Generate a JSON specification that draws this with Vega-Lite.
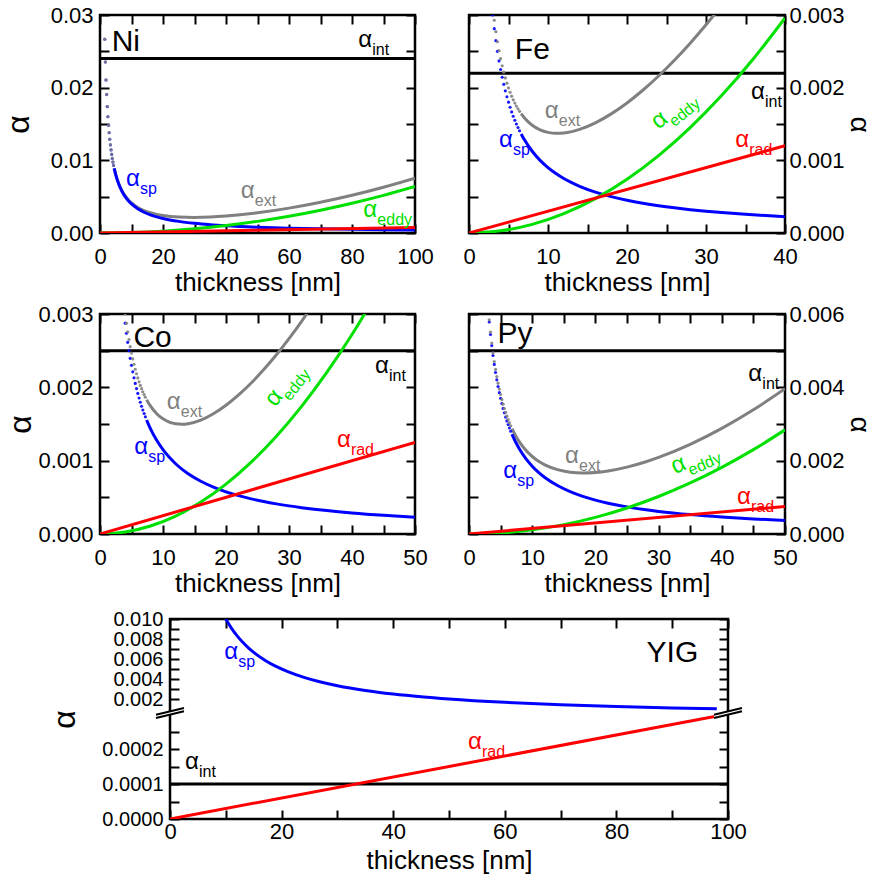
{
  "$schema": "https://vega.github.io/schema/vega-lite/v6.json",
  "background": "white",
  "padding": {"left": 0, "top": 2, "right": 0, "bottom": 0},
  "datasets": {
    "niL": [
      {"s":"int","t":0,"v":0.024},{"s":"int","t":100,"v":0.024},
      {"s":"ext","t":4.5,"v":0.008935},{"s":"ext","t":5,"v":0.008054},{"s":"ext","t":6,"v":0.006735},{"s":"ext","t":7,"v":0.005798},{"s":"ext","t":8,"v":0.005101},{"s":"ext","t":9,"v":0.004564},{"s":"ext","t":10,"v":0.004139},{"s":"ext","t":12,"v":0.003515},{"s":"ext","t":14,"v":0.003088},{"s":"ext","t":16,"v":0.002784},{"s":"ext","t":18,"v":0.002565},{"s":"ext","t":20,"v":0.002406},{"s":"ext","t":25,"v":0.002188},{"s":"ext","t":30,"v":0.002134},{"s":"ext","t":35,"v":0.002189},{"s":"ext","t":40,"v":0.002324},{"s":"ext","t":50,"v":0.002775},{"s":"ext","t":60,"v":0.003421},{"s":"ext","t":70,"v":0.004232},{"s":"ext","t":80,"v":0.005196},{"s":"ext","t":90,"v":0.006303},{"s":"ext","t":100,"v":0.00755},
      {"s":"sp","t":4.5,"v":0.008889},{"s":"sp","t":5,"v":0.008},{"s":"sp","t":6,"v":0.006667},{"s":"sp","t":7,"v":0.005714},{"s":"sp","t":8,"v":0.005},{"s":"sp","t":9,"v":0.004444},{"s":"sp","t":10,"v":0.004},{"s":"sp","t":12,"v":0.003333},{"s":"sp","t":14,"v":0.002857},{"s":"sp","t":16,"v":0.0025},{"s":"sp","t":18,"v":0.002222},{"s":"sp","t":20,"v":0.002},{"s":"sp","t":25,"v":0.0016},{"s":"sp","t":30,"v":0.001333},{"s":"sp","t":35,"v":0.001143},{"s":"sp","t":40,"v":0.001},{"s":"sp","t":50,"v":0.0008},{"s":"sp","t":60,"v":0.000667},{"s":"sp","t":70,"v":0.000571},{"s":"sp","t":80,"v":0.0005},{"s":"sp","t":90,"v":0.000444},{"s":"sp","t":100,"v":0.0004},
      {"s":"eddy","t":0,"v":0},{"s":"eddy","t":10,"v":0.000064},{"s":"eddy","t":20,"v":0.000256},{"s":"eddy","t":30,"v":0.000576},{"s":"eddy","t":40,"v":0.001024},{"s":"eddy","t":50,"v":0.0016},{"s":"eddy","t":60,"v":0.002304},{"s":"eddy","t":70,"v":0.003136},{"s":"eddy","t":80,"v":0.004096},{"s":"eddy","t":90,"v":0.005184},{"s":"eddy","t":100,"v":0.0064},
      {"s":"rad","t":0,"v":0},{"s":"rad","t":100,"v":0.00075}
    ],
    "niP": [
      {"s":"sp","t":1.5,"v":0.026667},{"s":"sp","t":1.7,"v":0.023529},{"s":"sp","t":1.9,"v":0.021053},{"s":"sp","t":2.1,"v":0.019048},{"s":"sp","t":2.3,"v":0.017391},{"s":"sp","t":2.5,"v":0.016},{"s":"sp","t":2.7,"v":0.014815},{"s":"sp","t":2.9,"v":0.013793},{"s":"sp","t":3.1,"v":0.012903},{"s":"sp","t":3.3,"v":0.012121},{"s":"sp","t":3.5,"v":0.011429},{"s":"sp","t":3.7,"v":0.010811},{"s":"sp","t":3.9,"v":0.010256},{"s":"sp","t":4.1,"v":0.009756},{"s":"sp","t":4.3,"v":0.009302},
      {"s":"ext","t":1.5,"v":0.02668},{"s":"ext","t":1.7,"v":0.023544},{"s":"ext","t":1.9,"v":0.02107},{"s":"ext","t":2.1,"v":0.019067},{"s":"ext","t":2.3,"v":0.017412},{"s":"ext","t":2.5,"v":0.016023},{"s":"ext","t":2.7,"v":0.01484},{"s":"ext","t":2.9,"v":0.01382},{"s":"ext","t":3.1,"v":0.012933},{"s":"ext","t":3.3,"v":0.012153},{"s":"ext","t":3.5,"v":0.011463},{"s":"ext","t":3.7,"v":0.010848},{"s":"ext","t":3.9,"v":0.010295},{"s":"ext","t":4.1,"v":0.009798},{"s":"ext","t":4.3,"v":0.009346}
    ],
    "niT": [
      {"a":"α","sub":"sp","s":"sp","t":8.25,"v":0.00647},
      {"a":"α","sub":"ext","s":"ext","t":44.7,"v":0.00486},
      {"a":"α","sub":"eddy","s":"eddy","t":83.6,"v":0.00224},
      {"a":"α","sub":"int","s":"int","t":82.0,"v":0.02564}
    ],
    "feL": [
      {"s":"int","t":0,"v":0.0022},{"s":"int","t":40,"v":0.0022},
      {"s":"ext","t":6.6,"v":0.0016422},{"s":"ext","t":7,"v":0.0015864},{"s":"ext","t":8,"v":0.0014834},{"s":"ext","t":9,"v":0.00141985},{"s":"ext","t":10,"v":0.001385},{"s":"ext","t":11,"v":0.00137203},{"s":"ext","t":12,"v":0.0013764},{"s":"ext","t":13,"v":0.00139496},{"s":"ext","t":14,"v":0.00142546},{"s":"ext","t":16,"v":0.0015161},{"s":"ext","t":18,"v":0.0016394},{"s":"ext","t":20,"v":0.00179},{"s":"ext","t":22,"v":0.00196449},{"s":"ext","t":24,"v":0.0021606},{"s":"ext","t":26,"v":0.00237675},{"s":"ext","t":28,"v":0.00261183},{"s":"ext","t":30,"v":0.002865},{"s":"ext","t":32,"v":0.00313565},
      {"s":"sp","t":6.6,"v":0.0013636},{"s":"sp","t":7,"v":0.0012857},{"s":"sp","t":8,"v":0.001125},{"s":"sp","t":9,"v":0.001},{"s":"sp","t":10,"v":0.0009},{"s":"sp","t":11,"v":0.00081818},{"s":"sp","t":12,"v":0.00075},{"s":"sp","t":13,"v":0.00069231},{"s":"sp","t":14,"v":0.00064286},{"s":"sp","t":16,"v":0.0005625},{"s":"sp","t":18,"v":0.0005},{"s":"sp","t":20,"v":0.00045},{"s":"sp","t":22,"v":0.00040909},{"s":"sp","t":24,"v":0.000375},{"s":"sp","t":26,"v":0.00034615},{"s":"sp","t":28,"v":0.00032143},{"s":"sp","t":30,"v":0.0003},{"s":"sp","t":32,"v":0.00028125},{"s":"sp","t":35,"v":0.00025714},{"s":"sp","t":40,"v":0.000225},
      {"s":"eddy","t":0,"v":0},{"s":"eddy","t":4,"v":0.0000296},{"s":"eddy","t":8,"v":0.0001184},{"s":"eddy","t":12,"v":0.0002664},{"s":"eddy","t":16,"v":0.0004736},{"s":"eddy","t":20,"v":0.00074},{"s":"eddy","t":24,"v":0.0010656},{"s":"eddy","t":28,"v":0.0014504},{"s":"eddy","t":32,"v":0.0018944},{"s":"eddy","t":36,"v":0.0023976},{"s":"eddy","t":40,"v":0.00296},
      {"s":"rad","t":0,"v":0},{"s":"rad","t":40,"v":0.0012}
    ],
    "feP": [
      {"s":"sp","t":3.0,"v":0.003},{"s":"sp","t":3.2,"v":0.0028125},{"s":"sp","t":3.4,"v":0.0026471},{"s":"sp","t":3.6,"v":0.0025},{"s":"sp","t":3.8,"v":0.0023684},{"s":"sp","t":4.0,"v":0.00225},{"s":"sp","t":4.2,"v":0.0021429},{"s":"sp","t":4.4,"v":0.0020455},{"s":"sp","t":4.6,"v":0.0019565},{"s":"sp","t":4.8,"v":0.001875},{"s":"sp","t":5.0,"v":0.0018},{"s":"sp","t":5.2,"v":0.0017308},{"s":"sp","t":5.4,"v":0.0016667},{"s":"sp","t":5.6,"v":0.0016071},{"s":"sp","t":5.8,"v":0.0015517},{"s":"sp","t":6.0,"v":0.0015},{"s":"sp","t":6.2,"v":0.0014516},{"s":"sp","t":6.4,"v":0.0014063},
      {"s":"ext","t":3.0,"v":0.0031067},{"s":"ext","t":3.2,"v":0.0029274},{"s":"ext","t":3.4,"v":0.0027705},{"s":"ext","t":3.6,"v":0.002632},{"s":"ext","t":3.8,"v":0.0025091},{"s":"ext","t":4.0,"v":0.0023996},{"s":"ext","t":4.2,"v":0.0023015},{"s":"ext","t":4.4,"v":0.0022133},{"s":"ext","t":4.6,"v":0.0021337},{"s":"ext","t":4.8,"v":0.0020616},{"s":"ext","t":5.0,"v":0.0019963},{"s":"ext","t":5.2,"v":0.0019368},{"s":"ext","t":5.4,"v":0.0018826},{"s":"ext","t":5.6,"v":0.0018331},{"s":"ext","t":5.8,"v":0.0017879},{"s":"ext","t":6.0,"v":0.0017466},{"s":"ext","t":6.2,"v":0.0017087},{"s":"ext","t":6.4,"v":0.0016741}
    ],
    "feT": [
      {"a":"α","sub":"int","s":"int","t":35.7,"v":0.00184},
      {"a":"α","sub":"ext","s":"ext","t":9.6,"v":0.00158},
      {"a":"α","sub":"sp","s":"sp","t":3.8,"v":0.00119},
      {"a":"α","sub":"rad","s":"rad","t":33.7,"v":0.00119}
    ],
    "coL": [
      {"s":"int","t":0,"v":0.0025},{"s":"int","t":50,"v":0.0025},
      {"s":"ext","t":7.4,"v":0.00183219},{"s":"ext","t":8,"v":0.0017463},{"s":"ext","t":9,"v":0.0016405},{"s":"ext","t":10,"v":0.00157},{"s":"ext","t":11,"v":0.0015262},{"s":"ext","t":12,"v":0.00150313},{"s":"ext","t":13,"v":0.00149692},{"s":"ext","t":14,"v":0.00150463},{"s":"ext","t":16,"v":0.00155395},{"s":"ext","t":18,"v":0.00163969},{"s":"ext","t":20,"v":0.001755},{"s":"ext","t":22,"v":0.00189553},{"s":"ext","t":24,"v":0.00205837},{"s":"ext","t":26,"v":0.00224151},{"s":"ext","t":28,"v":0.00244351},{"s":"ext","t":30,"v":0.00266333},{"s":"ext","t":32,"v":0.00290018},{"s":"ext","t":34,"v":0.00315344},
      {"s":"sp","t":7.4,"v":0.0015541},{"s":"sp","t":8,"v":0.0014375},{"s":"sp","t":9,"v":0.0012778},{"s":"sp","t":10,"v":0.00115},{"s":"sp","t":11,"v":0.0010455},{"s":"sp","t":12,"v":0.00095833},{"s":"sp","t":13,"v":0.00088462},{"s":"sp","t":14,"v":0.00082143},{"s":"sp","t":16,"v":0.00071875},{"s":"sp","t":18,"v":0.00063889},{"s":"sp","t":20,"v":0.000575},{"s":"sp","t":22,"v":0.00052273},{"s":"sp","t":24,"v":0.00047917},{"s":"sp","t":26,"v":0.00044231},{"s":"sp","t":28,"v":0.00041071},{"s":"sp","t":30,"v":0.00038333},{"s":"sp","t":32,"v":0.00035938},{"s":"sp","t":34,"v":0.00033824},{"s":"sp","t":36,"v":0.00031944},{"s":"sp","t":40,"v":0.0002875},{"s":"sp","t":45,"v":0.00025556},{"s":"sp","t":50,"v":0.00023},
      {"s":"eddy","t":0,"v":0},{"s":"eddy","t":4,"v":0.0000272},{"s":"eddy","t":8,"v":0.0001088},{"s":"eddy","t":12,"v":0.0002448},{"s":"eddy","t":16,"v":0.0004352},{"s":"eddy","t":20,"v":0.00068},{"s":"eddy","t":24,"v":0.0009792},{"s":"eddy","t":28,"v":0.0013328},{"s":"eddy","t":32,"v":0.0017408},{"s":"eddy","t":36,"v":0.0022032},{"s":"eddy","t":40,"v":0.00272},{"s":"eddy","t":44,"v":0.0032912},
      {"s":"rad","t":0,"v":0},{"s":"rad","t":50,"v":0.00125}
    ],
    "coP": [
      {"s":"sp","t":3.8,"v":0.0030263},{"s":"sp","t":4.0,"v":0.002875},{"s":"sp","t":4.2,"v":0.0027381},{"s":"sp","t":4.4,"v":0.0026136},{"s":"sp","t":4.6,"v":0.0025},{"s":"sp","t":4.8,"v":0.0023958},{"s":"sp","t":5.0,"v":0.0023},{"s":"sp","t":5.2,"v":0.0022115},{"s":"sp","t":5.4,"v":0.0021296},{"s":"sp","t":5.6,"v":0.0020536},{"s":"sp","t":5.8,"v":0.0019828},{"s":"sp","t":6.0,"v":0.0019167},{"s":"sp","t":6.2,"v":0.0018548},{"s":"sp","t":6.4,"v":0.0017969},{"s":"sp","t":6.6,"v":0.0017424},{"s":"sp","t":6.8,"v":0.0016912},{"s":"sp","t":7.0,"v":0.0016429},{"s":"sp","t":7.2,"v":0.0015972},
      {"s":"ext","t":3.8,"v":0.0031459},{"s":"ext","t":4.0,"v":0.0030022},{"s":"ext","t":4.2,"v":0.0028731},{"s":"ext","t":4.4,"v":0.0027565},{"s":"ext","t":4.6,"v":0.002651},{"s":"ext","t":4.8,"v":0.002555},{"s":"ext","t":5.0,"v":0.0024675},{"s":"ext","t":5.2,"v":0.0023875},{"s":"ext","t":5.4,"v":0.0023142},{"s":"ext","t":5.6,"v":0.0022469},{"s":"ext","t":5.8,"v":0.002185},{"s":"ext","t":6.0,"v":0.0021279},{"s":"ext","t":6.2,"v":0.0020752},{"s":"ext","t":6.4,"v":0.0020265},{"s":"ext","t":6.6,"v":0.0019815},{"s":"ext","t":6.8,"v":0.0019398},{"s":"ext","t":7.0,"v":0.0019012},{"s":"ext","t":7.2,"v":0.0018653}
    ],
    "coT": [
      {"a":"α","sub":"int","s":"int","t":43.65,"v":0.0022},
      {"a":"α","sub":"ext","s":"ext","t":10.6,"v":0.0017},
      {"a":"α","sub":"sp","s":"sp","t":5.45,"v":0.00109},
      {"a":"α","sub":"rad","s":"rad","t":37.6,"v":0.00118}
    ],
    "pyL": [
      {"s":"int","t":0,"v":0.005},{"s":"int","t":50,"v":0.005},
      {"s":"ext","t":6.8,"v":0.0028751},{"s":"ext","t":7.5,"v":0.0026431},{"s":"ext","t":8,"v":0.0025052},{"s":"ext","t":9,"v":0.0022826},{"s":"ext","t":10,"v":0.0021136},{"s":"ext","t":11,"v":0.0019843},{"s":"ext","t":12,"v":0.0018853},{"s":"ext","t":14,"v":0.0017541},{"s":"ext","t":16,"v":0.0016871},{"s":"ext","t":18,"v":0.0016659},{"s":"ext","t":20,"v":0.0016794},{"s":"ext","t":22,"v":0.0017207},{"s":"ext","t":25,"v":0.001825},{"s":"ext","t":28,"v":0.0019713},{"s":"ext","t":30,"v":0.0020891},{"s":"ext","t":35,"v":0.0024452},{"s":"ext","t":40,"v":0.0028801},{"s":"ext","t":45,"v":0.0033865},{"s":"ext","t":50,"v":0.00396},
      {"s":"sp","t":6.8,"v":0.0027206},{"s":"sp","t":7.5,"v":0.0024667},{"s":"sp","t":8,"v":0.0023125},{"s":"sp","t":9,"v":0.0020556},{"s":"sp","t":10,"v":0.00185},{"s":"sp","t":11,"v":0.0016818},{"s":"sp","t":12,"v":0.0015417},{"s":"sp","t":14,"v":0.0013214},{"s":"sp","t":16,"v":0.0011563},{"s":"sp","t":18,"v":0.0010278},{"s":"sp","t":20,"v":0.000925},{"s":"sp","t":22,"v":0.00084091},{"s":"sp","t":25,"v":0.00074},{"s":"sp","t":28,"v":0.00066071},{"s":"sp","t":30,"v":0.00061667},{"s":"sp","t":35,"v":0.00052857},{"s":"sp","t":40,"v":0.0004625},{"s":"sp","t":45,"v":0.00041111},{"s":"sp","t":50,"v":0.00037},
      {"s":"eddy","t":0,"v":0},{"s":"eddy","t":5,"v":0.0000284},{"s":"eddy","t":10,"v":0.0001136},{"s":"eddy","t":15,"v":0.0002556},{"s":"eddy","t":20,"v":0.0004544},{"s":"eddy","t":25,"v":0.00071},{"s":"eddy","t":30,"v":0.0010224},{"s":"eddy","t":35,"v":0.0013916},{"s":"eddy","t":40,"v":0.0018176},{"s":"eddy","t":45,"v":0.0023004},{"s":"eddy","t":50,"v":0.00284},
      {"s":"rad","t":0,"v":0},{"s":"rad","t":50,"v":0.00075}
    ],
    "pyP": [
      {"s":"sp","t":3.2,"v":0.0057813},{"s":"sp","t":3.4,"v":0.0054412},{"s":"sp","t":3.6,"v":0.0051389},{"s":"sp","t":3.8,"v":0.0048684},{"s":"sp","t":4.0,"v":0.004625},{"s":"sp","t":4.2,"v":0.0044048},{"s":"sp","t":4.4,"v":0.0042045},{"s":"sp","t":4.6,"v":0.0040217},{"s":"sp","t":4.8,"v":0.0038542},{"s":"sp","t":5.0,"v":0.0037},{"s":"sp","t":5.2,"v":0.0035577},{"s":"sp","t":5.4,"v":0.0034259},{"s":"sp","t":5.6,"v":0.0033036},{"s":"sp","t":5.8,"v":0.0031897},{"s":"sp","t":6.0,"v":0.0030833},{"s":"sp","t":6.2,"v":0.0029839},{"s":"sp","t":6.4,"v":0.0028906},{"s":"sp","t":6.6,"v":0.002803},
      {"s":"ext","t":3.2,"v":0.0058409},{"s":"ext","t":3.4,"v":0.0055053},{"s":"ext","t":3.6,"v":0.0052076},{"s":"ext","t":3.8,"v":0.0049418},{"s":"ext","t":4.0,"v":0.0047032},{"s":"ext","t":4.2,"v":0.0044878},{"s":"ext","t":4.4,"v":0.0042925},{"s":"ext","t":4.6,"v":0.0041147},{"s":"ext","t":4.8,"v":0.0039524},{"s":"ext","t":5.0,"v":0.0038034},{"s":"ext","t":5.2,"v":0.0036664},{"s":"ext","t":5.4,"v":0.00354},{"s":"ext","t":5.6,"v":0.0034232},{"s":"ext","t":5.8,"v":0.0033149},{"s":"ext","t":6.0,"v":0.0032142},{"s":"ext","t":6.2,"v":0.0031206},{"s":"ext","t":6.4,"v":0.0030331},{"s":"ext","t":6.6,"v":0.0029515}
    ],
    "pyT": [
      {"a":"α","sub":"int","s":"int","t":44.2,"v":0.00417},
      {"a":"α","sub":"ext","s":"ext","t":15.2,"v":0.00194},
      {"a":"α","sub":"sp","s":"sp","t":5.4,"v":0.00154},
      {"a":"α","sub":"rad","s":"rad","t":42.4,"v":0.00081}
    ],
    "yiL": [
      {"s":"int","t":0,"v":0.0001},{"s":"int","t":100,"v":0.0001},
      {"s":"sp","t":10,"v":0.01},{"s":"sp","t":11,"v":0.0090909},{"s":"sp","t":12,"v":0.0083333},{"s":"sp","t":13,"v":0.0076923},{"s":"sp","t":14,"v":0.0071429},{"s":"sp","t":15,"v":0.0066667},{"s":"sp","t":17,"v":0.0058824},{"s":"sp","t":19,"v":0.0052632},{"s":"sp","t":21,"v":0.0047619},{"s":"sp","t":24,"v":0.0041667},{"s":"sp","t":27,"v":0.0037037},{"s":"sp","t":30,"v":0.0033333},{"s":"sp","t":35,"v":0.0028571},{"s":"sp","t":40,"v":0.0025},{"s":"sp","t":45,"v":0.0022222},{"s":"sp","t":50,"v":0.002},{"s":"sp","t":60,"v":0.0016667},{"s":"sp","t":70,"v":0.0014286},{"s":"sp","t":80,"v":0.00125},{"s":"sp","t":90,"v":0.0011111},{"s":"sp","t":98,"v":0.0010204},
      {"s":"rad","t":0,"v":0},{"s":"rad","t":100,"v":0.0003}
    ],
    "yiT": [
      {"a":"α","sub":"sp","s":"sp","t":9.7,"v":0.00597},
      {"a":"α","sub":"int","s":"int","t":2.7,"v":0.000142},
      {"a":"α","sub":"rad","s":"rad","t":53.4,"v":0.000199}
    ]
  },
  "vconcat": [
    {
      "vconcat": [
        {
          "hconcat": [
            {
              "width": 315, "height": 218,
              "layer": [
                {"data": {"name": "niL"}, "mark": {"type": "line", "strokeWidth": 3, "clip": true, "interpolate": "monotone"},
                 "encoding": {
                   "x": {"field": "t", "type": "quantitative", "scale": {"domain": [0, 100], "nice": false, "zero": false},
                         "axis": {"orient": "bottom", "values": [0,10,20,30,40,50,60,70,80,90,100], "labelExpr": "datum.value % 20 == 0 ? datum.label : ''", "title": "thickness [nm]"}},
                   "y": {"field": "v", "type": "quantitative", "scale": {"domain": [0, 0.03], "nice": false, "zero": false},
                         "axis": {"orient": "left", "values": [0,0.005,0.01,0.015,0.02,0.025,0.03], "labelExpr": "abs(datum.value*100 - round(datum.value*100)) < 1e-6 ? format(datum.value, '.2f') : ''", "title": "α", "titlePadding": 15}},
                   "color": {"field": "s", "type": "nominal", "scale": {"domain": ["int","ext","sp","eddy","rad"], "range": ["#000000","#808080","#0000ff","#00e000","#ff0000"]}, "legend": null}
                 }},
                {"data": {"name": "niP"}, "mark": {"type": "point", "filled": true, "size": 10, "opacity": 0.85, "clip": true},
                 "encoding": {
                   "x": {"field": "t", "type": "quantitative", "scale": {"domain": [0, 100], "nice": false, "zero": false},
                         "axis": {"orient": "top", "values": [0,10,20,30,40,50,60,70,80,90,100], "labels": false, "title": null}},
                   "y": {"field": "v", "type": "quantitative", "scale": {"domain": [0, 0.03], "nice": false, "zero": false},
                         "axis": {"orient": "right", "values": [0,0.005,0.01,0.015,0.02,0.025,0.03], "labels": false, "title": null}},
                   "color": {"field": "s", "type": "nominal", "scale": {"domain": ["int","ext","sp","eddy","rad"], "range": ["#000000","#808080","#0000ff","#00e000","#ff0000"]}, "legend": null}
                 }},
                {"data": {"name": "niT"}, "mark": {"type": "text", "align": "left", "baseline": "alphabetic", "fontSize": 24},
                 "encoding": {"x": {"field": "t", "type": "quantitative", "axis": null}, "y": {"field": "v", "type": "quantitative", "axis": null}, "text": {"field": "a"},
                   "color": {"field": "s", "type": "nominal", "scale": {"domain": ["int","ext","sp","eddy","rad"], "range": ["#000000","#808080","#0000ff","#00e000","#ff0000"]}, "legend": null}}},
                {"data": {"name": "niT"}, "mark": {"type": "text", "align": "left", "baseline": "alphabetic", "fontSize": 16, "dx": 14, "dy": 8},
                 "encoding": {"x": {"field": "t", "type": "quantitative", "axis": null}, "y": {"field": "v", "type": "quantitative", "axis": null}, "text": {"field": "sub"},
                   "color": {"field": "s", "type": "nominal", "scale": {"domain": ["int","ext","sp","eddy","rad"], "range": ["#000000","#808080","#0000ff","#00e000","#ff0000"]}, "legend": null}}},
                {"data": {"values": [{"n": "Ni", "t": 3.7, "v": 0.02505}]}, "mark": {"type": "text", "align": "left", "baseline": "alphabetic", "fontSize": 30, "color": "black"},
                 "encoding": {"x": {"field": "t", "type": "quantitative", "axis": null}, "y": {"field": "v", "type": "quantitative", "axis": null}, "text": {"field": "n"}}}
              ],
              "resolve": {"axis": {"x": "independent", "y": "independent"}}
            },
            {
              "width": 316, "height": 218,
              "layer": [
                {"data": {"name": "feL"}, "mark": {"type": "line", "strokeWidth": 3, "clip": true, "interpolate": "monotone"},
                 "encoding": {
                   "x": {"field": "t", "type": "quantitative", "scale": {"domain": [0, 40], "nice": false, "zero": false},
                         "axis": {"orient": "bottom", "values": [0,5,10,15,20,25,30,35,40], "labelExpr": "datum.value % 10 == 0 ? datum.label : ''", "title": "thickness [nm]"}},
                   "y": {"field": "v", "type": "quantitative", "scale": {"domain": [0, 0.003], "nice": false, "zero": false},
                         "axis": {"orient": "right", "values": [0,0.0005,0.001,0.0015,0.002,0.0025,0.003], "labelExpr": "abs(datum.value*1000 - round(datum.value*1000)) < 1e-6 ? format(datum.value, '.3f') : ''", "title": "α"}},
                   "color": {"field": "s", "type": "nominal", "scale": {"domain": ["int","ext","sp","eddy","rad"], "range": ["#000000","#808080","#0000ff","#00e000","#ff0000"]}, "legend": null}
                 }},
                {"data": {"name": "feP"}, "mark": {"type": "point", "filled": true, "size": 10, "opacity": 0.9, "clip": true},
                 "encoding": {
                   "x": {"field": "t", "type": "quantitative", "scale": {"domain": [0, 40], "nice": false, "zero": false},
                         "axis": {"orient": "top", "values": [0,5,10,15,20,25,30,35,40], "labels": false, "title": null}},
                   "y": {"field": "v", "type": "quantitative", "scale": {"domain": [0, 0.003], "nice": false, "zero": false},
                         "axis": {"orient": "left", "values": [0,0.0005,0.001,0.0015,0.002,0.0025,0.003], "labels": false, "title": null}},
                   "color": {"field": "s", "type": "nominal", "scale": {"domain": ["int","ext","sp","eddy","rad"], "range": ["#000000","#808080","#0000ff","#00e000","#ff0000"]}, "legend": null}
                 }},
                {"data": {"name": "feT"}, "mark": {"type": "text", "align": "left", "baseline": "alphabetic", "fontSize": 24},
                 "encoding": {"x": {"field": "t", "type": "quantitative", "axis": null}, "y": {"field": "v", "type": "quantitative", "axis": null}, "text": {"field": "a"},
                   "color": {"field": "s", "type": "nominal", "scale": {"domain": ["int","ext","sp","eddy","rad"], "range": ["#000000","#808080","#0000ff","#00e000","#ff0000"]}, "legend": null}}},
                {"data": {"name": "feT"}, "mark": {"type": "text", "align": "left", "baseline": "alphabetic", "fontSize": 16, "dx": 14, "dy": 8},
                 "encoding": {"x": {"field": "t", "type": "quantitative", "axis": null}, "y": {"field": "v", "type": "quantitative", "axis": null}, "text": {"field": "sub"},
                   "color": {"field": "s", "type": "nominal", "scale": {"domain": ["int","ext","sp","eddy","rad"], "range": ["#000000","#808080","#0000ff","#00e000","#ff0000"]}, "legend": null}}},
                {"data": {"values": [{"a": "α", "t": 24.0, "v": 0.001418}]}, "mark": {"type": "text", "align": "left", "baseline": "alphabetic", "fontSize": 24, "angle": -39, "color": "#00e000"},
                 "encoding": {"x": {"field": "t", "type": "quantitative", "axis": null}, "y": {"field": "v", "type": "quantitative", "axis": null}, "text": {"field": "a"}}},
                {"data": {"values": [{"a": "eddy", "t": 24.0, "v": 0.001418}]}, "mark": {"type": "text", "align": "left", "baseline": "alphabetic", "fontSize": 16, "angle": -39, "dx": 14, "dy": 8, "color": "#00e000"},
                 "encoding": {"x": {"field": "t", "type": "quantitative", "axis": null}, "y": {"field": "v", "type": "quantitative", "axis": null}, "text": {"field": "a"}}},
                {"data": {"values": [{"n": "Fe", "t": 5.8, "v": 0.0024}]}, "mark": {"type": "text", "align": "left", "baseline": "alphabetic", "fontSize": 30, "color": "black"},
                 "encoding": {"x": {"field": "t", "type": "quantitative", "axis": null}, "y": {"field": "v", "type": "quantitative", "axis": null}, "text": {"field": "n"}}}
              ],
              "resolve": {"axis": {"x": "independent", "y": "independent"}}
            }
          ],
          "spacing": 54, "bounds": "flush"
        },
        {
          "hconcat": [
            {
              "width": 315, "height": 220,
              "layer": [
                {"data": {"name": "coL"}, "mark": {"type": "line", "strokeWidth": 3, "clip": true, "interpolate": "monotone"},
                 "encoding": {
                   "x": {"field": "t", "type": "quantitative", "scale": {"domain": [0, 50], "nice": false, "zero": false},
                         "axis": {"orient": "bottom", "values": [0,5,10,15,20,25,30,35,40,45,50], "labelExpr": "datum.value % 10 == 0 ? datum.label : ''", "title": "thickness [nm]"}},
                   "y": {"field": "v", "type": "quantitative", "scale": {"domain": [0, 0.003], "nice": false, "zero": false},
                         "axis": {"orient": "left", "values": [0,0.0005,0.001,0.0015,0.002,0.0025,0.003], "labelExpr": "abs(datum.value*1000 - round(datum.value*1000)) < 1e-6 ? format(datum.value, '.3f') : ''", "title": "α", "titlePadding": 0}},
                   "color": {"field": "s", "type": "nominal", "scale": {"domain": ["int","ext","sp","eddy","rad"], "range": ["#000000","#808080","#0000ff","#00e000","#ff0000"]}, "legend": null}
                 }},
                {"data": {"name": "coP"}, "mark": {"type": "point", "filled": true, "size": 10, "opacity": 0.9, "clip": true},
                 "encoding": {
                   "x": {"field": "t", "type": "quantitative", "scale": {"domain": [0, 50], "nice": false, "zero": false},
                         "axis": {"orient": "top", "values": [0,5,10,15,20,25,30,35,40,45,50], "labels": false, "title": null}},
                   "y": {"field": "v", "type": "quantitative", "scale": {"domain": [0, 0.003], "nice": false, "zero": false},
                         "axis": {"orient": "right", "values": [0,0.0005,0.001,0.0015,0.002,0.0025,0.003], "labels": false, "title": null}},
                   "color": {"field": "s", "type": "nominal", "scale": {"domain": ["int","ext","sp","eddy","rad"], "range": ["#000000","#808080","#0000ff","#00e000","#ff0000"]}, "legend": null}
                 }},
                {"data": {"name": "coT"}, "mark": {"type": "text", "align": "left", "baseline": "alphabetic", "fontSize": 24},
                 "encoding": {"x": {"field": "t", "type": "quantitative", "axis": null}, "y": {"field": "v", "type": "quantitative", "axis": null}, "text": {"field": "a"},
                   "color": {"field": "s", "type": "nominal", "scale": {"domain": ["int","ext","sp","eddy","rad"], "range": ["#000000","#808080","#0000ff","#00e000","#ff0000"]}, "legend": null}}},
                {"data": {"name": "coT"}, "mark": {"type": "text", "align": "left", "baseline": "alphabetic", "fontSize": 16, "dx": 14, "dy": 8},
                 "encoding": {"x": {"field": "t", "type": "quantitative", "axis": null}, "y": {"field": "v", "type": "quantitative", "axis": null}, "text": {"field": "sub"},
                   "color": {"field": "s", "type": "nominal", "scale": {"domain": ["int","ext","sp","eddy","rad"], "range": ["#000000","#808080","#0000ff","#00e000","#ff0000"]}, "legend": null}}},
                {"data": {"values": [{"a": "α", "t": 27.8, "v": 0.00172}]}, "mark": {"type": "text", "align": "left", "baseline": "alphabetic", "fontSize": 24, "angle": -52, "color": "#00e000"},
                 "encoding": {"x": {"field": "t", "type": "quantitative", "axis": null}, "y": {"field": "v", "type": "quantitative", "axis": null}, "text": {"field": "a"}}},
                {"data": {"values": [{"a": "eddy", "t": 27.8, "v": 0.00172}]}, "mark": {"type": "text", "align": "left", "baseline": "alphabetic", "fontSize": 16, "angle": -52, "dx": 14, "dy": 8, "color": "#00e000"},
                 "encoding": {"x": {"field": "t", "type": "quantitative", "axis": null}, "y": {"field": "v", "type": "quantitative", "axis": null}, "text": {"field": "a"}}},
                {"data": {"values": [{"n": "Co", "t": 5.3, "v": 0.00255}]}, "mark": {"type": "text", "align": "left", "baseline": "alphabetic", "fontSize": 30, "color": "black"},
                 "encoding": {"x": {"field": "t", "type": "quantitative", "axis": null}, "y": {"field": "v", "type": "quantitative", "axis": null}, "text": {"field": "n"}}}
              ],
              "resolve": {"axis": {"x": "independent", "y": "independent"}}
            },
            {
              "width": 316, "height": 220,
              "layer": [
                {"data": {"name": "pyL"}, "mark": {"type": "line", "strokeWidth": 3, "clip": true, "interpolate": "monotone"},
                 "encoding": {
                   "x": {"field": "t", "type": "quantitative", "scale": {"domain": [0, 50], "nice": false, "zero": false},
                         "axis": {"orient": "bottom", "values": [0,5,10,15,20,25,30,35,40,45,50], "labelExpr": "datum.value % 10 == 0 ? datum.label : ''", "title": "thickness [nm]"}},
                   "y": {"field": "v", "type": "quantitative", "scale": {"domain": [0, 0.006], "nice": false, "zero": false},
                         "axis": {"orient": "right", "values": [0,0.001,0.002,0.003,0.004,0.005,0.006], "labelExpr": "abs(datum.value*500 - round(datum.value*500)) < 1e-6 ? format(datum.value, '.3f') : ''", "title": "α"}},
                   "color": {"field": "s", "type": "nominal", "scale": {"domain": ["int","ext","sp","eddy","rad"], "range": ["#000000","#808080","#0000ff","#00e000","#ff0000"]}, "legend": null}
                 }},
                {"data": {"name": "pyP"}, "mark": {"type": "point", "filled": true, "size": 10, "opacity": 0.9, "clip": true},
                 "encoding": {
                   "x": {"field": "t", "type": "quantitative", "scale": {"domain": [0, 50], "nice": false, "zero": false},
                         "axis": {"orient": "top", "values": [0,5,10,15,20,25,30,35,40,45,50], "labels": false, "title": null}},
                   "y": {"field": "v", "type": "quantitative", "scale": {"domain": [0, 0.006], "nice": false, "zero": false},
                         "axis": {"orient": "left", "values": [0,0.001,0.002,0.003,0.004,0.005,0.006], "labels": false, "title": null}},
                   "color": {"field": "s", "type": "nominal", "scale": {"domain": ["int","ext","sp","eddy","rad"], "range": ["#000000","#808080","#0000ff","#00e000","#ff0000"]}, "legend": null}
                 }},
                {"data": {"name": "pyT"}, "mark": {"type": "text", "align": "left", "baseline": "alphabetic", "fontSize": 24},
                 "encoding": {"x": {"field": "t", "type": "quantitative", "axis": null}, "y": {"field": "v", "type": "quantitative", "axis": null}, "text": {"field": "a"},
                   "color": {"field": "s", "type": "nominal", "scale": {"domain": ["int","ext","sp","eddy","rad"], "range": ["#000000","#808080","#0000ff","#00e000","#ff0000"]}, "legend": null}}},
                {"data": {"name": "pyT"}, "mark": {"type": "text", "align": "left", "baseline": "alphabetic", "fontSize": 16, "dx": 14, "dy": 8},
                 "encoding": {"x": {"field": "t", "type": "quantitative", "axis": null}, "y": {"field": "v", "type": "quantitative", "axis": null}, "text": {"field": "sub"},
                   "color": {"field": "s", "type": "nominal", "scale": {"domain": ["int","ext","sp","eddy","rad"], "range": ["#000000","#808080","#0000ff","#00e000","#ff0000"]}, "legend": null}}},
                {"data": {"values": [{"a": "α", "t": 32.6, "v": 0.00163}]}, "mark": {"type": "text", "align": "left", "baseline": "alphabetic", "fontSize": 24, "angle": -24, "color": "#00e000"},
                 "encoding": {"x": {"field": "t", "type": "quantitative", "axis": null}, "y": {"field": "v", "type": "quantitative", "axis": null}, "text": {"field": "a"}}},
                {"data": {"values": [{"a": "eddy", "t": 32.6, "v": 0.00163}]}, "mark": {"type": "text", "align": "left", "baseline": "alphabetic", "fontSize": 16, "angle": -24, "dx": 14, "dy": 8, "color": "#00e000"},
                 "encoding": {"x": {"field": "t", "type": "quantitative", "axis": null}, "y": {"field": "v", "type": "quantitative", "axis": null}, "text": {"field": "a"}}},
                {"data": {"values": [{"n": "Py", "t": 4.5, "v": 0.0052}]}, "mark": {"type": "text", "align": "left", "baseline": "alphabetic", "fontSize": 30, "color": "black"},
                 "encoding": {"x": {"field": "t", "type": "quantitative", "axis": null}, "y": {"field": "v", "type": "quantitative", "axis": null}, "text": {"field": "n"}}}
              ],
              "resolve": {"axis": {"x": "independent", "y": "independent"}}
            }
          ],
          "spacing": 54, "bounds": "flush"
        }
      ],
      "spacing": 4
    },
    {
      "hconcat": [
        {"width": 63, "height": 200, "data": {"values": []}, "mark": "point", "view": {"stroke": null}},
        {
          "width": 558, "height": 200,
          "layer": [
            {"data": {"name": "yiL"}, "mark": {"type": "line", "strokeWidth": 3, "clip": true, "interpolate": "monotone"},
             "encoding": {
               "x": {"field": "t", "type": "quantitative", "scale": {"domain": [0, 100], "nice": false, "zero": false},
                     "axis": {"orient": "bottom", "values": [0,10,20,30,40,50,60,70,80,90,100], "labelExpr": "datum.value % 20 == 0 ? datum.label : ''", "title": "thickness [nm]", "labelPadding": 11, "titlePadding": 5}},
               "y": {"field": "v", "type": "quantitative", "scale": {"domain": [0, 0.0003, 0.0007, 0.01], "range": [200, 95, 93, 0], "nice": false, "zero": false},
                     "axis": {"orient": "left", "values": [0,0.00005,0.0001,0.00015,0.0002,0.00025,0.002,0.003,0.004,0.005,0.006,0.007,0.008,0.009,0.01], "labelExpr": "indexof([0, 0.0001, 0.0002], datum.value) >= 0 ? format(datum.value, '.4f') : (indexof([0.002, 0.004, 0.006, 0.008, 0.01], datum.value) >= 0 ? format(datum.value, '.3f') : '')", "labelFontSize": 20, "title": "α", "titlePadding": 20}},
               "color": {"field": "s", "type": "nominal", "scale": {"domain": ["int","ext","sp","eddy","rad"], "range": ["#000000","#808080","#0000ff","#00e000","#ff0000"]}, "legend": null}
             }},
            {"data": {"values": [{"t": 0, "v": 0.0005}, {"t": 100, "v": 0.0005}]}, "mark": {"type": "point", "shape": "M-1,0.12L1,-0.36L1,-0.12L-1,0.36Z", "filled": true, "color": "white", "opacity": 1, "size": 784, "clip": false},
             "encoding": {
               "x": {"field": "t", "type": "quantitative", "axis": {"orient": "top", "values": [0,10,20,30,40,50,60,70,80,90,100], "labels": false, "title": null}},
               "y": {"field": "v", "type": "quantitative", "axis": {"orient": "right", "values": [0,0.00005,0.0001,0.00015,0.0002,0.00025,0.002,0.003,0.004,0.005,0.006,0.007,0.008,0.009,0.01], "labels": false, "title": null}}
             }},
            {"data": {"values": [{"t": 0, "v": 0.0005}, {"t": 100, "v": 0.0005}]}, "mark": {"type": "point", "shape": "M-1,0.12L1,-0.36M-1,0.36L1,-0.12", "filled": false, "color": "black", "strokeWidth": 2, "opacity": 1, "size": 784, "clip": false},
             "encoding": {"x": {"field": "t", "type": "quantitative", "axis": null}, "y": {"field": "v", "type": "quantitative", "axis": null}}},
            {"data": {"name": "yiT"}, "mark": {"type": "text", "align": "left", "baseline": "alphabetic", "fontSize": 24},
             "encoding": {"x": {"field": "t", "type": "quantitative", "axis": null}, "y": {"field": "v", "type": "quantitative", "axis": null}, "text": {"field": "a"},
               "color": {"field": "s", "type": "nominal", "scale": {"domain": ["int","ext","sp","eddy","rad"], "range": ["#000000","#808080","#0000ff","#00e000","#ff0000"]}, "legend": null}}},
            {"data": {"name": "yiT"}, "mark": {"type": "text", "align": "left", "baseline": "alphabetic", "fontSize": 16, "dx": 14, "dy": 8},
             "encoding": {"x": {"field": "t", "type": "quantitative", "axis": null}, "y": {"field": "v", "type": "quantitative", "axis": null}, "text": {"field": "sub"},
               "color": {"field": "s", "type": "nominal", "scale": {"domain": ["int","ext","sp","eddy","rad"], "range": ["#000000","#808080","#0000ff","#00e000","#ff0000"]}, "legend": null}}},
            {"data": {"values": [{"n": "YIG", "t": 85.4, "v": 0.0057}]}, "mark": {"type": "text", "align": "left", "baseline": "alphabetic", "fontSize": 30, "color": "black"},
             "encoding": {"x": {"field": "t", "type": "quantitative", "axis": null}, "y": {"field": "v", "type": "quantitative", "axis": null}, "text": {"field": "n"}}}
          ],
          "resolve": {"axis": {"x": "independent", "y": "independent"}}
        }
      ],
      "spacing": 7, "bounds": "flush"
    }
  ],
  "spacing": 9,
  "config": {
    "font": "Liberation Sans",
    "view": {"stroke": "black", "strokeWidth": 2.5},
    "axis": {"grid": false, "domain": false, "ticks": true, "tickColor": "black", "tickWidth": 2, "tickSize": -9, "labelColor": "black", "labelFontSize": 22, "labelFlush": false, "labelOverlap": false, "titleColor": "black", "titleFontWeight": "normal", "titleFontSize": 26},
    "axisBottom": {"labelPadding": 22, "titlePadding": 2},
    "axisLeft": {"labelPadding": 16, "titleFontSize": 32},
    "axisRight": {"labelPadding": 13, "titleFontSize": 28, "titlePadding": 0},
    "axisTop": {"labelPadding": 0}
  }
}
